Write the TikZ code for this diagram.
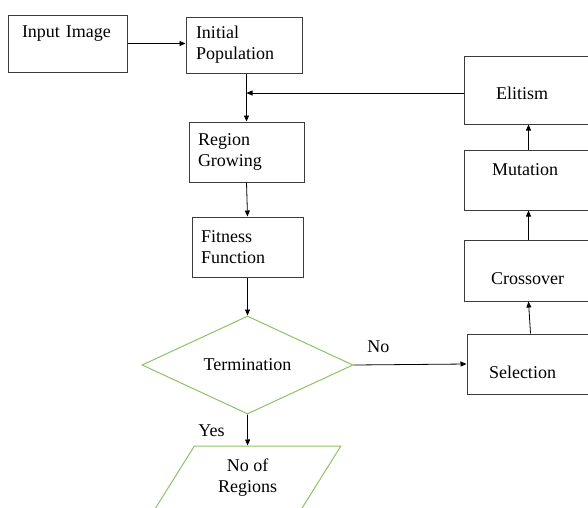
\documentclass[tikz,border=0pt]{standalone}
\usepackage{fontspec}
\setmainfont{Liberation Serif}
\usetikzlibrary{arrows.meta,shapes.geometric}
\definecolor{boxline}{RGB}{60,60,60}
\definecolor{termgreen}{RGB}{140,195,100}
\begin{document}
\begin{tikzpicture}[x=1pt,y=-1pt,
  every node/.style={font=\fontsize{18}{21}\selectfont},
  box/.style={draw=boxline, line width=1pt, rectangle, inner ysep=0pt, align=left},
  decision/.style={draw=termgreen, line width=1pt, diamond, inner sep=0pt, aspect=2.15},
  iobox/.style={draw=termgreen, line width=1pt, trapezium, trapezium left angle=59.4, trapezium right angle=120.6, trapezium stretches=true, inner sep=0pt, align=center},
  arr/.style={draw=black, line width=0.8pt, -{Triangle[length=6pt,width=5pt]}},
  lbl/.style={inner sep=0pt}]
\path[use as bounding box, clip] (0,0) rectangle (588,507);
\node[box, minimum width=119pt, minimum height=57pt, inner xsep=14pt, text width=91pt, text height=12pt, text depth=25pt] (inp) at (67.5,43.5) {Input Image};
\node[box, minimum width=116pt, minimum height=56pt, inner xsep=10pt, text width=96pt] (ini) at (244,45) {Initial\\Population};
\node[box, minimum width=115pt, minimum height=60pt, inner xsep=9pt, text width=97pt] (reg) at (246.5,152) {Region\\Growing};
\node[box, minimum width=111pt, minimum height=60pt, inner xsep=9pt, text width=93pt] (fit) at (247.5,247) {Fitness\\Function};
\node[box, minimum width=129pt, minimum height=68pt, inner xsep=32pt, text width=65pt, text height=19pt, text depth=0pt] (eli) at (528.5,90) {Elitism};
\node[box, minimum width=129pt, minimum height=60pt, inner xsep=28pt, text width=73pt, text height=12pt, text depth=22pt] (mut) at (528.5,180) {Mutation};
\node[box, minimum width=129pt, minimum height=61pt, inner xsep=27pt, text width=75pt, text height=27pt, text depth=0pt] (cro) at (528.5,270.5) {Crossover};
\node[box, minimum width=127pt, minimum height=60pt, inner xsep=22pt, text width=83pt, text height=28pt, text depth=0pt] (sel) at (530.5,364) {Selection};
\node[decision, minimum width=211pt, minimum height=98pt] (term) at (247.5,365) {Termination};
\node[iobox, minimum width=186.8pt, minimum height=64pt] (nr) at (247.6,478) {No of\\Regions};
\draw[arr] (inp.east) -- (inp.east -| ini.west);
\draw[arr] (ini.south -| reg.north) -- (reg.north);
\draw[arr] ([yshift=-3pt]eli.west) -- ([yshift=-3pt]eli.west -| reg.north);
\draw[arr] (reg.south) -- (fit.north);
\draw[arr] (fit.south) -- (term.north);
\draw[arr] (term.east) -- node[lbl, pos=0.22, anchor=base, yshift=12.5pt]{No} (sel.west);
\draw[arr] (term.south) -- node[lbl, pos=0.72, anchor=base east, xshift=-22.5pt]{Yes} (nr.north);
\draw[arr] (sel.north) -- (cro.south);
\draw[arr] (cro.north) -- (mut.south);
\draw[arr] (mut.north) -- (eli.south);
\end{tikzpicture}
\end{document}
